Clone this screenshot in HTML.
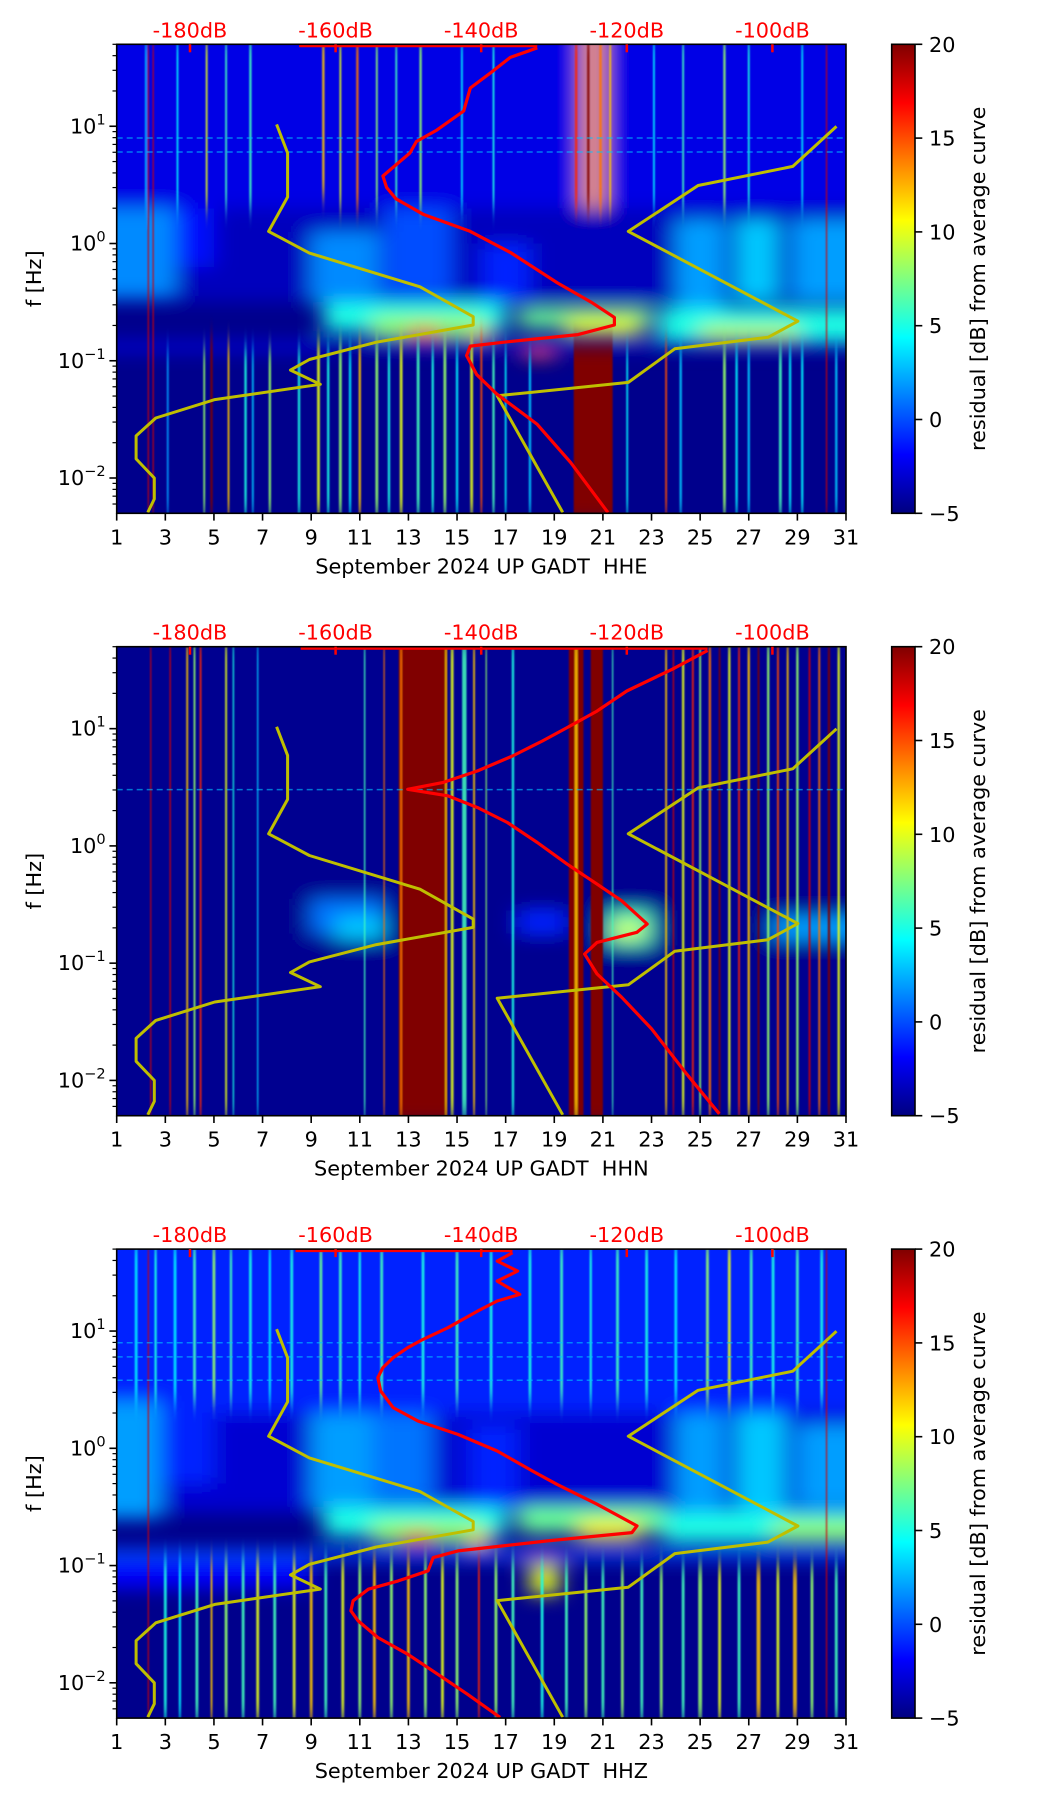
<!DOCTYPE html>
<html><head><meta charset="utf-8"><title>Spectrogram residuals GADT</title>
<style>
html,body{margin:0;padding:0;background:#fff;}
svg{display:block;font-family:"DejaVu Sans","Liberation Sans",sans-serif;}
</style></head>
<body>
<svg id="fig" width="1052" height="1806" viewBox="0 0 1052 1806" xmlns="http://www.w3.org/2000/svg">
<defs>
<filter id="blurBand" x="-20%" y="-20%" width="140%" height="140%"><feGaussianBlur stdDeviation="11 9"/></filter>
<filter id="blurStripe" x="-50%" y="-5%" width="200%" height="110%"><feGaussianBlur stdDeviation="0.7 10"/></filter>
<linearGradient id="jetGrad" x1="0" y1="1" x2="0" y2="0"></linearGradient>
</defs>
</svg>
<script>
// ---------- axis tick data ----------
const dayTicks = [1,3,5,7,9,11,13,15,17,19,21,23,25,27,29,31];
const dbTicks = [-180,-160,-140,-120,-100];
const cbTicks = [-5,0,5,10,15,20];
const decadeTicks = [-2,-1,0,1];
const panelTitles = ["September 2024 UP GADT  HHE","September 2024 UP GADT  HHN","September 2024 UP GADT  HHZ"];

// ---------- noise models (dB, log10 f) ----------
const nlnmDb = [-168.1,-166.6,-166.6,-169.2,-163.6,-148.4,-141.1,-141.1,-154.4,-163.6,-166.2,-162.1,-176.6,-184.7,-187.4,-187.4,-184.9,-184.9,-185.8];
const nlnmLf = [1.016,0.772,0.397,0.103,-0.082,-0.369,-0.624,-0.695,-0.842,-0.989,-1.080,-1.201,-1.331,-1.488,-1.641,-1.837,-2.0,-2.179,-2.293];
const nhnmDb = [-91.2,-97.2,-110.2,-119.8,-96.5,-100.6,-113.4,-119.8,-137.8,-128.8];
const nhnmLf = [0.999,0.658,0.495,0.103,-0.663,-0.800,-0.898,-1.185,-1.299,-2.293];

// ---------- average curves (dB, log10 f) per channel ----------
const hheDb = [-132.3,-136.0,-138.7,-141.5,-142.4,-146.1,-148.9,-149.8,-153.5,-153.0,-151.7,-148.0,-141.5,-136.0,-129.5,-124.9,-121.7,-121.7,-126.7,-136.9,-141.5,-142.0,-140.6,-137.9,-132.3,-127.7,-122.6];
const hheLf = [1.668,1.587,1.457,1.326,1.130,0.967,0.870,0.772,0.576,0.478,0.381,0.250,0.103,-0.076,-0.337,-0.500,-0.630,-0.695,-0.777,-0.842,-0.875,-0.956,-1.119,-1.282,-1.543,-1.869,-2.293];
const hhnDb = [-108.9,-113.8,-120.0,-124.1,-128.2,-131.6,-135.7,-140.5,-145.3,-150.1,-144.6,-140.5,-136.4,-132.3,-128.2,-124.1,-120.7,-117.2,-118.6,-124.1,-125.8,-124.1,-120.7,-116.6,-111.8,-107.3];
const hhnLf = [1.667,1.505,1.321,1.150,1.009,0.895,0.767,0.640,0.540,0.483,0.427,0.327,0.200,0.029,-0.155,-0.326,-0.468,-0.666,-0.737,-0.823,-0.922,-1.092,-1.291,-1.561,-1.944,-2.285];
const hhzDb = [-135.7,-137.8,-135.0,-137.8,-134.7,-137.8,-140.5,-144.6,-148.0,-150.1,-152.1,-153.5,-154.2,-153.8,-152.1,-148.7,-143.2,-137.8,-133.0,-129.6,-124.1,-118.6,-119.3,-130.9,-143.2,-146.6,-147.3,-151.4,-155.5,-157.6,-157.9,-156.9,-154.2,-150.1,-146.0,-141.9,-137.4];
const hhzLf = [1.668,1.597,1.511,1.426,1.313,1.256,1.170,1.028,0.929,0.858,0.773,0.688,0.602,0.489,0.347,0.233,0.119,-0.023,-0.193,-0.307,-0.477,-0.662,-0.719,-0.790,-0.875,-0.932,-1.045,-1.131,-1.202,-1.301,-1.386,-1.472,-1.614,-1.756,-1.926,-2.097,-2.295];
const hheTopDb = [-165,-132.3];
const hhnTopDb = [-164.8,-108.9];
const hhzTopDb = [-165.5,-135.7];

// ---------- spectrogram residuals: bands [day0, day1, lf0, lf1, residual dB] ----------
const hheBands = [
 [0,32,0.3,1.9,-2.5],[0,32,-0.5,0.3,-3.5],
 [0,3.4,-0.45,0.3,1.5],[3.4,5,-0.2,0.3,-1.5],[9,11.8,-0.5,0.1,1.5],[12,14.8,-0.45,0.3,0],[16,18,-0.5,0,-1],
 [24,26,-0.6,0.2,2],[26.5,28.2,-0.5,0.2,3],[28.8,32,-0.5,0.2,2],
 [9.5,17,-0.75,-0.5,5],[11.5,16,-0.8,-0.62,8],[13,14.3,-0.82,-0.72,15],[15.6,16.3,-0.85,-0.72,12],
 [17.5,23,-0.72,-0.55,7],[19.5,22.5,-0.78,-0.62,10],
 [23.3,32,-0.82,-0.55,5],[25,29,-0.82,-0.7,9],
 [17.8,19,-0.98,-0.84,15],[0,9.5,-0.92,-0.84,-2],[0,32,-0.9,-0.83,-3],
 [20.2,21,0.3,1.9,13]
];
const hheStripes = [
 [20.6,1.6,-2.4,-0.85,20],
 [2.3,0.03,-2.31,1.75,18],[2.5,0.03,-2.31,1.75,18],[30.2,0.04,-2.31,1.75,18],[4.9,0.1,-2.31,-0.8,20],
 [3.1,0.08,-2.31,-0.9,2],[4.6,0.08,-2.31,-0.9,8],[5.6,0.08,-2.31,-0.85,12],[6.3,0.1,-2.31,-0.9,5],[6.6,0.08,-2.31,-0.9,3],
 [7.3,0.1,-2.31,-0.9,8],[8.5,0.1,-2.31,-0.9,5],[9.3,0.12,-2.31,-0.85,10],[9.7,0.1,-2.31,-0.9,5],[10.2,0.12,-2.31,-0.85,8],
 [10.6,0.1,-2.31,-0.9,4],[11.0,0.1,-2.31,-0.85,12],[11.7,0.12,-2.31,-0.85,8],[12.2,0.1,-2.31,-0.9,5],[12.7,0.12,-2.31,-0.85,10],
 [13.4,0.12,-2.31,-0.85,6],[14.0,0.1,-2.31,-0.9,5],[14.5,0.12,-2.31,-0.85,8],[15.0,0.1,-2.31,-0.9,4],[15.6,0.12,-2.31,-0.85,10],
 [16.0,0.08,-2.31,-0.8,15],[16.5,0.1,-2.31,-0.9,6],[17.0,0.08,-2.31,-0.9,4],[18.0,0.1,-2.31,-0.95,3],[22.0,0.08,-2.31,-0.9,4],
 [23.6,0.08,-2.31,-0.85,15],[24.2,0.1,-2.31,-0.9,3],[26.0,0.12,-2.31,-0.9,8],[26.5,0.1,-2.31,-0.9,4],[27.0,0.1,-2.31,-0.9,3],
 [28.3,0.12,-2.31,-0.9,6],[28.7,0.1,-2.31,-0.9,4],[29.2,0.1,-2.31,-0.9,4],[30.6,0.1,-2.31,-0.9,3],
 [2.2,0.08,0.3,1.75,3],[3.5,0.08,0.3,1.75,4],[4.7,0.08,0.3,1.75,10],[5.5,0.08,0.3,1.75,6],[6.5,0.1,0.3,1.75,6],
 [9.5,0.1,0.4,1.75,12],[10.2,0.08,0.3,1.75,10],[10.9,0.1,0.3,1.75,14],[11.7,0.08,0.3,1.75,8],[12.5,0.08,0.3,1.75,6],
 [13.5,0.1,0.3,1.75,8],[15.2,0.08,0.3,1.75,4],[16.5,0.08,0.3,1.75,5],[19.9,0.1,0.3,1.75,16],[20.4,0.1,0.3,1.75,20],
 [20.9,0.1,0.3,1.75,14],[21.3,0.08,0.3,1.75,12],[23.1,0.08,0.3,1.75,4],[24.3,0.08,0.3,1.75,6],[26.0,0.1,0.3,1.75,8],
 [27.0,0.08,0.3,1.75,5],[29.2,0.08,0.3,1.75,4]
];
const hhnBands = [
 [0,32,-2.4,1.9,-4.6],
 [9,12,-0.75,-0.45,1],[10,12,-0.8,-0.6,3],[17.5,19.5,-0.75,-0.55,-1],[21.2,23,-0.85,-0.55,6],[21.5,22.6,-0.78,-0.65,10],
 [28,32,-0.8,-0.6,2]
];
const hhnStripes = [
 [13.6,2.0,-2.4,1.9,20],[19.9,0.6,-2.4,1.9,20],[20.75,0.5,-2.4,1.9,20],
 [3.2,0.06,-2.31,1.75,18],[2.4,0.04,-2.31,1.75,18],[3.9,0.08,-2.31,1.75,12],[4.2,0.08,-2.31,1.75,8],[4.45,0.08,-2.31,1.75,16],
 [5.5,0.08,-2.31,1.75,10],[5.8,0.06,-2.31,1.75,5],[6.8,0.06,-2.31,1.75,3],[11.2,0.06,-2.31,1.75,6],[12.0,0.05,-2.31,1.75,14],
 [12.7,0.08,-2.31,1.75,14],[14.55,0.08,-2.31,1.75,12],
 [14.8,0.12,-2.31,1.75,10],[15.3,0.18,-2.31,1.75,6],[15.7,0.08,-2.31,1.75,12],[16.2,0.05,-2.31,1.75,8],[17.3,0.1,-2.31,1.75,5],
 [19.9,0.12,-2.31,1.75,12],[21.4,0.05,-2.31,1.75,6],[23.6,0.08,-2.31,1.75,12],[23.9,0.06,-2.31,1.75,18],[24.3,0.1,-2.31,1.75,10],
 [24.7,0.08,-2.31,1.75,16],[25.0,0.08,-2.31,1.75,8],[25.4,0.1,-2.31,1.75,14],[25.8,0.08,-2.31,1.75,20],[26.2,0.1,-2.31,1.75,10],
 [26.6,0.08,-2.31,1.75,16],[27.0,0.1,-2.31,1.75,12],[27.4,0.08,-2.31,1.75,20],[27.8,0.1,-2.31,1.75,8],[28.2,0.08,-2.31,1.75,15],
 [28.6,0.08,-2.31,1.75,12],[29.0,0.1,-2.31,1.75,8],[29.5,0.08,-2.31,1.75,18],[29.9,0.08,-2.31,1.75,14],[30.3,0.1,-2.31,1.75,20],
 [30.7,0.1,-2.31,1.75,10]
];
const hhzBands = [
 [0,32,0.3,1.9,-1],[0,32,-0.55,0.3,-3],
 [0,2.8,-0.6,0.4,2],[2.8,5,-0.3,0.3,-1],[9,11.5,-0.5,0.3,2],[11.5,14,-0.45,0.3,1],[15.5,17.5,-0.5,0.2,-1],
 [24,26,-0.6,0.3,2],[26.5,28.5,-0.55,0.3,3],[29,32,-0.5,0.2,2],
 [9.5,17,-0.75,-0.5,5],[11.5,16,-0.8,-0.62,8],[12.8,14,-0.82,-0.72,15],[15.5,16.3,-0.88,-0.72,12],
 [17.5,23.5,-0.72,-0.5,7],[20,22.5,-0.78,-0.62,11],[23.5,32,-0.8,-0.55,5],[28,32,-0.78,-0.62,8],
 [17.8,19.3,-0.98,-0.84,18],[18,19.2,-1.25,-1.0,10],[0,32,-0.95,-0.86,0],[0,9,-1.2,-0.95,-2]
];
const hhzStripes = [
 [2.3,0.03,-2.31,1.75,18],[30.2,0.04,-2.31,1.75,18],
 [3.0,0.12,-2.31,-0.95,5],[3.6,0.1,-2.31,-0.95,4],[4.3,0.12,-2.31,-0.95,6],[4.9,0.08,-2.31,-0.95,12],[5.5,0.12,-2.31,-0.95,8],
 [6.2,0.12,-2.31,-0.95,6],[6.8,0.12,-2.31,-0.95,10],[7.5,0.12,-2.31,-0.95,6],[8.3,0.12,-2.31,-0.95,10],[9.0,0.12,-2.31,-0.95,12],
 [9.6,0.12,-2.31,-0.95,6],[10.3,0.12,-2.31,-0.95,10],[11.0,0.12,-2.31,-0.95,8],[11.6,0.12,-2.31,-0.95,12],[12.3,0.12,-2.31,-0.95,8],
 [13.0,0.12,-2.31,-0.95,12],[13.7,0.12,-2.31,-0.95,8],[14.4,0.12,-2.31,-0.95,10],[15.0,0.12,-2.31,-0.95,8],[15.9,0.08,-2.31,-0.95,16],
 [16.6,0.12,-2.31,-0.95,8],[17.3,0.12,-2.31,-0.95,6],[18.5,0.12,-2.31,-1.0,5],[19.5,0.12,-2.31,-1.0,6],[20.3,0.12,-2.31,-1.0,8],
 [21.0,0.12,-2.31,-1.0,6],[21.8,0.12,-2.31,-1.0,8],[22.6,0.12,-2.31,-1.0,6],[23.4,0.12,-2.31,-1.0,8],[24.3,0.12,-2.31,-1.0,6],
 [25.0,0.16,-2.31,-1.0,8],[25.8,0.12,-2.31,-1.0,10],[26.6,0.12,-2.31,-1.0,6],[27.4,0.16,-2.31,-1.0,12],[28.2,0.12,-2.31,-1.0,10],
 [28.9,0.16,-2.31,-1.0,12],[29.6,0.12,-2.31,-1.0,8],[30.6,0.12,-2.31,-1.0,6],
 [1.8,0.12,0.4,1.75,4],[2.6,0.1,0.4,1.75,5],[3.4,0.12,0.4,1.75,4],[4.2,0.12,0.4,1.75,6],[5.0,0.12,0.4,1.75,8],[5.7,0.1,0.4,1.75,6],
 [6.5,0.12,0.4,1.75,5],[7.3,0.1,0.4,1.75,4],[8.2,0.12,0.4,1.75,5],[9.4,0.12,0.4,1.75,7],[10.2,0.12,0.4,1.75,6],[11.0,0.1,0.4,1.75,5],
 [11.9,0.12,0.4,1.75,6],[13.6,0.12,0.4,1.75,5],[15.0,0.12,0.4,1.75,6],[16.4,0.12,0.4,1.75,5],[18.0,0.12,0.4,1.75,5],[19.3,0.12,0.4,1.75,6],
 [20.5,0.1,0.4,1.75,5],[21.6,0.12,0.4,1.75,6],[22.8,0.12,0.4,1.75,5],[24.0,0.12,0.4,1.75,4],[25.3,0.12,0.4,1.75,8],[26.2,0.12,0.4,1.75,10],
 [27.1,0.12,0.4,1.75,6],[28.0,0.12,0.4,1.75,5],[29.0,0.12,0.4,1.75,6],[30.0,0.12,0.4,1.75,5]
];

// ---------- layout ----------
const SVGNS = "http://www.w3.org/2000/svg";
const svg = document.getElementById('fig');
const AX_L = 116.7, AX_R = 846, AX_H = 469, PANEL_STEP = 602.4, AX_T0 = 44.3;
const CB_L = 891.7, CB_R = 915;
const LF_TOP = 1.699, LF_BOT = -2.301;
const DB_X0 = 190, DB_PX = 7.28;
const FS = 20.8;

function el(tag, attrs, parent){
  const e = document.createElementNS(SVGNS, tag);
  for (const k in attrs) e.setAttribute(k, attrs[k]);
  (parent||svg).appendChild(e);
  return e;
}
function jet(v){
  let t = (v + 5) / 25; t = Math.max(0, Math.min(1, t));
  const c = x => Math.round(255*Math.max(0, Math.min(1, x)));
  return `rgb(${c(1.5-Math.abs(4*t-3))},${c(1.5-Math.abs(4*t-2))},${c(1.5-Math.abs(4*t-1))})`;
}
const grad = document.getElementById('jetGrad');
for (let i=0;i<=16;i++){
  const s = document.createElementNS(SVGNS,'stop');
  s.setAttribute('offset', (i/16));
  s.setAttribute('stop-color', jet(-5 + 25*i/16));
  grad.appendChild(s);
}

const panels = [
  {bands:hheBands, stripes:hheStripes, db:hheDb, lf:hheLf, top:hheTopDb, hline:[0.9,0.78], key:'hhe'},
  {bands:hhnBands, stripes:hhnStripes, db:hhnDb, lf:hhnLf, top:hhnTopDb, hline:[0.48], key:'hhn'},
  {bands:hhzBands, stripes:hhzStripes, db:hhzDb, lf:hhzLf, top:hhzTopDb, hline:[0.9,0.78,0.58], key:'hhz'}
];

panels.forEach((p, pi) => {
  const T = AX_T0 + pi*PANEL_STEP, B = T + AX_H;
  const X = d => AX_L + (d-1)/30*(AX_R-AX_L);
  const Y = lf => T + (LF_TOP-lf)/(LF_TOP-LF_BOT)*AX_H;
  const XD = db => DB_X0 + (db+180)*DB_PX;

  const g = el('g', {});
  
  
  const cp = el('clipPath', {id:'clip'+pi}, g);
  el('rect', {x:AX_L, y:T, width:AX_R-AX_L, height:AX_H}, cp);

  const spec = el('g', {'clip-path':`url(#clip${pi})`}, g);
  
  
  el('rect', {x:AX_L, y:T, width:AX_R-AX_L, height:AX_H, fill:jet(-4.7)}, spec);
  const bg = el('g', {filter:'url(#blurBand)'}, spec);
  p.bands.forEach(b => {
    const r = el('rect', {x:X(b[0]), y:Y(b[3]), width:X(b[1])-X(b[0]), height:Y(b[2])-Y(b[3]), fill:jet(b[4])}, bg);
    
    
  });
  const sg = el('g', {filter:'url(#blurStripe)'}, spec);
  p.stripes.forEach(s => {
    const w = Math.max(1.3, X(1+s[1]) - X(1));
    const r = el('rect', {x:X(s[0])-w/2, y:Y(s[3]), width:w, height:Y(s[2])-Y(s[3]), fill:jet(s[4]), opacity: w>10 ? 1 : 0.85}, sg);
    
    
  });
  p.hline.forEach(h => {
    const l = el('line', {x1:AX_L, x2:AX_R, y1:Y(h), y2:Y(h), stroke:jet(3), 'stroke-width':1.5, 'stroke-dasharray':'6 4', opacity:0.6}, spec);
    
    
  });

  const curves = el('g', {'clip-path':`url(#clip${pi})`}, g);
  const mk = (dbs, lfs) => dbs.map((d,i)=>`${XD(d).toFixed(1)},${Y(lfs[i]).toFixed(1)}`).join(' ');
  const nl = el('polyline', {points:mk(nlnmDb,nlnmLf), fill:'none', stroke:'#bfbf00', 'stroke-width':3, 'stroke-linejoin':'round'}, curves);
  
  
  const nh = el('polyline', {points:mk(nhnmDb,nhnmLf), fill:'none', stroke:'#bfbf00', 'stroke-width':3, 'stroke-linejoin':'round'}, curves);
  
  
  const tl = el('line', {x1:XD(p.top[0]), x2:XD(p.top[1]), y1:T+1.5, y2:T+1.5, stroke:'#ff0000', 'stroke-width':3}, curves);
  
  
  const av = el('polyline', {points:mk(p.db,p.lf), fill:'none', stroke:'#ff0000', 'stroke-width':3.2, 'stroke-linejoin':'round'}, curves);
  
  

  const fr = el('rect', {x:AX_L, y:T, width:AX_R-AX_L, height:AX_H, fill:'none', stroke:'#000', 'stroke-width':1.6}, g);
  
  

  dayTicks.forEach(d => {
    el('line', {x1:X(d), x2:X(d), y1:B, y2:B+7.3, stroke:'#000', 'stroke-width':1.6}, g);
    const t = el('text', {x:X(d), y:B+31, 'text-anchor':'middle', 'font-size':FS, fill:'#000'}, g);
    
    
    t.textContent = d;
  });
  const xl = el('text', {x:(AX_L+AX_R)/2, y:B+60, 'text-anchor':'middle', 'font-size':FS, fill:'#000', style:'white-space:pre'}, g);
  
  
  xl.textContent = panelTitles[pi];

  decadeTicks.forEach(k => {
    el('line', {x1:AX_L-7.3, x2:AX_L, y1:Y(k), y2:Y(k), stroke:'#000', 'stroke-width':1.6}, g);
    const t = el('text', {x:AX_L-11, y:Y(k)+7, 'text-anchor':'end', 'font-size':FS, fill:'#000'}, g);
    
    
    const a = document.createElementNS(SVGNS,'tspan'); a.textContent='10'; t.appendChild(a);
    const b = document.createElementNS(SVGNS,'tspan'); b.setAttribute('dy','-9'); b.setAttribute('font-size', FS*0.7);
    b.textContent = (k<0?'\u2212':'') + Math.abs(k); t.appendChild(b);
  });
  for (let k=-3;k<=1;k++) for (let m=2;m<=9;m++){
    const lf = k + Math.log10(m);
    if (lf < LF_BOT || lf > LF_TOP) continue;
    el('line', {x1:AX_L-4.2, x2:AX_L, y1:Y(lf), y2:Y(lf), stroke:'#000', 'stroke-width':1.2}, g);
  }
  const yl = el('text', {x:0, y:0, transform:`translate(41,${(T+B)/2}) rotate(-90)`, 'text-anchor':'middle', 'font-size':FS, fill:'#000'}, g);
  
  
  yl.textContent = 'f [Hz]';

  dbTicks.forEach(db => {
    el('line', {x1:XD(db), x2:XD(db), y1:T, y2:T+8, stroke:'#ff0000', 'stroke-width':2.5}, g);
    const t = el('text', {x:XD(db), y:T-7, 'text-anchor':'middle', 'font-size':FS, fill:'#ff0000'}, g);
    
    
    t.textContent = db + 'dB';
  });

  const cb = el('rect', {x:CB_L, y:T, width:CB_R-CB_L, height:AX_H, fill:'url(#jetGrad)', stroke:'#000', 'stroke-width':1.6}, g);
  
  
  const CY = v => B - (v+5)/25*AX_H;
  cbTicks.forEach(v => {
    el('line', {x1:CB_R, x2:CB_R+7.3, y1:CY(v), y2:CY(v), stroke:'#000', 'stroke-width':1.6}, g);
    const t = el('text', {x:CB_R+14, y:CY(v)+7.5, 'font-size':FS, fill:'#000'}, g);
    
    
    t.textContent = v<0 ? '\u2212'+Math.abs(v) : v;
  });
  const cl = el('text', {x:0, y:0, transform:`translate(985,${(T+B)/2}) rotate(-90)`, 'text-anchor':'middle', 'font-size':FS, fill:'#000'}, g);
  
  
  cl.textContent = 'residual [dB] from average curve';
});
</script>
</body></html>
